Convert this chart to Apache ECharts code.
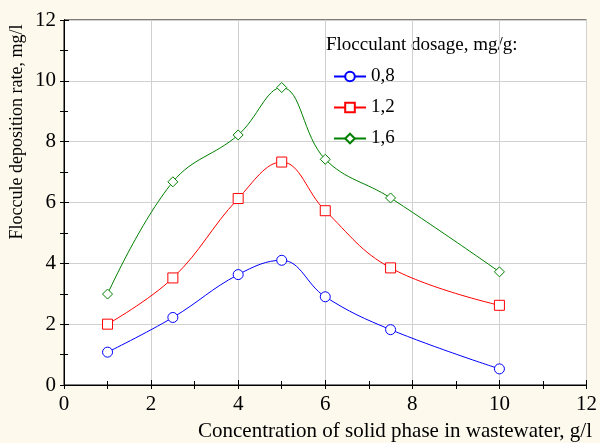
<!DOCTYPE html>
<html>
<head>
    <meta charset="utf-8" />
    <title>Floccule deposition</title>
    <script src="https://cdn.jsdelivr.net/npm/echarts@6/dist/echarts.min.js"></script>
</head>
<body style="margin:0;background:#fdf9ed;">
    <div id="main" style="width: 600px;height:443px;"></div>
    <script type="text/javascript">
        var concentration = [1, 2.5, 4, 5, 6, 7.5, 10];
        var dose08 = [1.08, 2.22, 3.63, 4.1, 2.9, 1.82, 0.53];
        var dose12 = [2.0, 3.52, 6.13, 7.33, 5.73, 3.85, 2.62];
        var dose16 = [2.99, 6.68, 8.22, 9.78, 7.42, 6.15, 3.72];
        var seriesNames = ['0,8', '1,2', '1,6'];

        function pairs(ys) {
            return concentration.map(function (x, i) { return [x, ys[i]]; });
        }

        var font = 'Liberation Serif, Times New Roman, serif';
        var myChart = echarts.init(document.getElementById('main'));

        // plain axis: frame line + inside ticks, no labels
        function axisCommon(extra) {
            var a = {
                type: 'value',
                min: 0,
                max: 12,
                interval: 1,
                axisLine: { show: true, lineStyle: { color: '#000', width: 1 } },
                axisTick: { show: true, inside: true, length: 4, lineStyle: { color: '#000' } },
                splitLine: { show: false },
                axisLabel: { show: false }
            };
            for (var k in extra) a[k] = extra[k];
            return a;
        }

        var labelStyle = { show: true, fontFamily: font, fontSize: 21, color: '#000' };
        var gridLine = { show: true, lineStyle: { color: '#d0d0d0', width: 1 } };

        var option = {
            backgroundColor: '#fdf9ed',
            animation: false,
            textStyle: { fontFamily: font },
            grid: {
                left: 64, right: 12, top: 20, bottom: 58,
                show: true, backgroundColor: '#fff', borderColor: '#000', borderWidth: 1
            },
            graphic: [{
                type: 'text', left: 326, top: 36,
                style: { text: 'Flocculant dosage, mg/g:', font: '19px ' + font, fill: '#000' }
            }, {
                type: 'text', x: 17, y: 132, rotation: Math.PI / 2,
                style: {
                    text: 'Floccule deposition rate, mg/l', font: '18px ' + font, fill: '#000',
                    align: 'center', verticalAlign: 'middle'
                }
            }, {
                type: 'text', right: 8, top: 421,
                style: { text: 'Concentration of solid phase in wastewater, g/l', font: '21px ' + font, fill: '#000' }
            }],
            legend: {
                orient: 'vertical',
                left: 328, top: 62,
                itemWidth: 32, itemHeight: 12, itemGap: 12,
                textStyle: { fontFamily: font, fontSize: 19, color: '#000' },
                data: seriesNames
            },
            xAxis: [
                axisCommon({
                    position: 'bottom', interval: 2,
                    axisTick: { show: true, inside: true, length: 5, lineStyle: { color: '#000' } },
                    splitLine: gridLine,
                    axisLabel: Object.assign({ margin: 9 }, labelStyle)
                }),
                axisCommon({ position: 'bottom' }),
                axisCommon({ position: 'top' })
            ],
            yAxis: [
                axisCommon({
                    position: 'left', interval: 2,
                    axisTick: { show: true, inside: true, length: 5, lineStyle: { color: '#000' } },
                    splitLine: gridLine,
                    axisLabel: Object.assign({ margin: 8 }, labelStyle)
                }),
                axisCommon({ position: 'left' }),
                axisCommon({ position: 'right' })
            ],
            series: [
                {
                    name: seriesNames[0], type: 'line', smooth: 0.4,
                    data: pairs(dose08), symbol: 'circle', symbolSize: 10,
                    itemStyle: { color: '#fff', borderColor: '#0000ff', borderWidth: 1 },
                    lineStyle: { color: '#0000ff', width: 1 }
                },
                {
                    name: seriesNames[1], type: 'line', smooth: 0.4,
                    data: pairs(dose12), symbol: 'rect', symbolSize: 10,
                    itemStyle: { color: '#fff', borderColor: '#ff0000', borderWidth: 1 },
                    lineStyle: { color: '#ff0000', width: 1 }
                },
                {
                    name: seriesNames[2], type: 'line', smooth: 0.4,
                    data: pairs(dose16), symbol: 'diamond', symbolSize: 10,
                    itemStyle: { color: '#fff', borderColor: '#008000', borderWidth: 1 },
                    lineStyle: { color: '#008000', width: 1 }
                }
            ]
        };

        myChart.setOption(option);
    </script>
</body>
</html>
